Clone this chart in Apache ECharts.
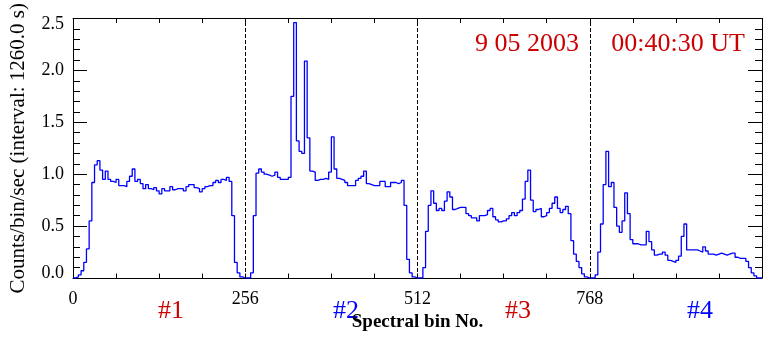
<!DOCTYPE html>
<html>
<head>
<meta charset="utf-8">
<script src="https://cdn.jsdelivr.net/npm/echarts@6/dist/echarts.min.js"></script>
<style>
html,body{margin:0;padding:0;background:#fff;}
#chart{width:773px;height:337px;}
</style>
</head>
<body>
<div id="chart"></div>
<script>
// Spectrum: counts/bin/sec, one value per 4 spectral bins (left bin edge = index*4)
var binStep = 4;
var countsQ1 = [ // bins 0..252
  0.00,0.01,0.03,0.07,0.15,0.28,0.55,0.92,1.09,1.13,1.04,0.95,1.03,0.95,0.93,0.92,
  0.95,0.89,0.89,0.88,0.93,0.98,1.05,0.93,0.95,0.91,0.86,0.90,0.86,0.85,0.87,0.84,
  0.81,0.86,0.84,0.84,0.88,0.85,0.86,0.86,0.86,0.84,0.88,0.90,0.90,0.87,0.86,0.83,
  0.86,0.88,0.89,0.89,0.92,0.94,0.92,0.95,0.94,0.97,0.93,0.60,0.15,0.05,0.01,0.00
];
var countsQ2 = [ // bins 256..508
  0.00,0.00,0.05,0.60,1.01,1.05,1.02,1.00,0.99,0.98,0.99,1.02,0.97,0.95,0.95,0.95,
  0.97,1.75,2.46,1.32,1.22,1.20,2.09,1.35,1.03,1.02,0.94,0.95,0.95,0.96,0.95,1.02,
  1.36,1.05,0.96,0.95,0.94,0.92,0.89,0.89,0.89,0.94,0.96,0.98,1.03,0.91,0.90,0.89,
  0.89,0.89,0.93,0.93,0.88,0.88,0.92,0.92,0.91,0.92,0.94,0.70,0.18,0.05,0.01,0.00
];
var countsQ3 = [ // bins 512..764
  0.00,0.00,0.10,0.45,0.70,0.84,0.72,0.65,0.67,0.65,0.74,0.83,0.78,0.66,0.67,0.68,
  0.68,0.68,0.62,0.60,0.58,0.58,0.55,0.60,0.60,0.61,0.65,0.67,0.59,0.56,0.54,0.55,
  0.55,0.57,0.60,0.63,0.60,0.63,0.65,0.76,0.93,1.04,0.75,0.64,0.66,0.67,0.59,0.60,
  0.63,0.67,0.72,0.78,0.67,0.63,0.66,0.69,0.62,0.36,0.23,0.16,0.10,0.04,0.01,0.00
];
var countsQ4 = [ // bins 768..1020
  0.00,0.00,0.03,0.25,0.52,0.90,1.22,0.88,0.92,0.68,0.50,0.44,0.55,0.82,0.62,0.37,
  0.33,0.33,0.32,0.32,0.32,0.45,0.35,0.27,0.22,0.23,0.23,0.25,0.22,0.17,0.16,0.15,
  0.17,0.21,0.40,0.52,0.27,0.27,0.27,0.27,0.26,0.25,0.30,0.26,0.23,0.23,0.22,0.23,
  0.24,0.23,0.22,0.23,0.24,0.24,0.20,0.19,0.19,0.19,0.16,0.10,0.05,0.02,0.00,0.00
];
var xTickLabels = [0, 256, 512, 768];
var detectorBounds = [256, 512, 768];
var regionNames = ['#1', '#2', '#3', '#4'];
var obsDate = '9 05 2003';
var obsTime = '00:40:30 UT';
var xName = 'Spectral bin No.';
var yName = 'Counts/bin/sec (interval: 1260.0 s)';

var allCounts = countsQ1.concat(countsQ2, countsQ3, countsQ4);
var seriesData = allCounts.map(function (v, i) { return [i * binStep, v]; });
seriesData.push([allCounts.length * binStep, allCounts[allCounts.length - 1]]);

var FONT = "'Liberation Serif', 'Times New Roman', serif";
var RED = '#cc0000', BLUE = '#0000ff';

var chart = echarts.init(document.getElementById('chart'), null, {renderer: 'canvas'});
var regionPos = [[171, 311, RED], [346, 311, BLUE], [518, 311, RED], [700, 311, BLUE]];

var option = {
  animation: false,
  backgroundColor: '#fff',
  grid: {left: 72, top: 14, width: 690, height: 264, containLabel: false},
  xAxis: [{
    type: 'value', min: 0, max: 1024, interval: 64, position: 'bottom',
    name: xName, nameLocation: 'middle', nameGap: 33,
    nameTextStyle: {fontFamily: FONT, fontSize: 19, fontWeight: 'bold', color: '#000'},
    axisLine: {show: true, onZero: false, lineStyle: {color: '#000', width: 1}},
    axisTick: {show: true, inside: true, length: 4.5, lineStyle: {color: '#000'}},
    axisLabel: {
      fontFamily: FONT, fontSize: 18, color: '#000', margin: 12, showMaxLabel: false,
      formatter: function (v) { return xTickLabels.indexOf(v) >= 0 ? String(v) : ''; }
    },
    splitLine: {show: false}
  }, {
    type: 'value', min: 0, max: 1024, interval: 64, position: 'top',
    axisLine: {show: true, onZero: false, lineStyle: {color: '#000', width: 1}},
    axisTick: {show: true, inside: true, length: 4.5, lineStyle: {color: '#000'}},
    axisLabel: {show: false}, splitLine: {show: false}
  }],
  yAxis: [{
    type: 'value', min: 0, max: 2.5, interval: 0.5, position: 'left',
    name: yName, nameLocation: 'middle', nameGap: 44, nameRotate: 90,
    nameTextStyle: {fontFamily: FONT, fontSize: 21, color: '#000'},
    axisLine: {show: true, onZero: false, lineStyle: {color: '#000', width: 1}},
    axisTick: {show: true, inside: true, length: 14, lineStyle: {color: '#000'}},
    minorTick: {show: true, splitNumber: 5, length: 7, lineStyle: {color: '#000'}},
    axisLabel: {
      fontFamily: FONT, fontSize: 18, color: '#000', margin: 9,
      formatter: function (v) {
        var s = v.toFixed(1);
        if (v === 0) return '{lo|' + s + '}';
        if (v === 2.5) return '{hi|' + s + '}';
        return s;
      },
      rich: {
        lo: {fontFamily: FONT, fontSize: 18, color: '#000', padding: [0, 0, 10, 0]},
        hi: {fontFamily: FONT, fontSize: 18, color: '#000', padding: [12, 0, 0, 0]}
      }
    },
    splitLine: {show: false}, minorSplitLine: {show: false}
  }, {
    type: 'value', min: 0, max: 2.5, interval: 0.5, position: 'right',
    axisLine: {show: true, onZero: false, lineStyle: {color: '#000', width: 1}},
    axisTick: {show: true, inside: true, length: 14, lineStyle: {color: '#000'}},
    minorTick: {show: true, splitNumber: 5, length: 7, lineStyle: {color: '#000'}},
    axisLabel: {show: false}, splitLine: {show: false}, minorSplitLine: {show: false}
  }],
  series: [{
    type: 'line', xAxisIndex: 0, yAxisIndex: 0, step: 'end',
    data: seriesData, showSymbol: false, symbol: 'none',
    lineStyle: {color: BLUE, width: 1.3}, z: 3,
    markLine: {
      silent: true, symbol: ['none', 'none'], label: {show: false},
      lineStyle: {color: '#000', type: [4, 2], width: 1},
      data: detectorBounds.map(function (b) { return {xAxis: b}; })
    }
  }],
  graphic: regionNames.map(function (t, i) {
    return {type: 'text', x: regionPos[i][0], y: regionPos[i][1], silent: true,
      style: {text: t, fill: regionPos[i][2], font: '26px ' + FONT, textAlign: 'center', textVerticalAlign: 'middle'}};
  }).concat([
    {type: 'text', x: 527, y: 44, silent: true,
      style: {text: obsDate, fill: RED, font: '26px ' + FONT, textAlign: 'center', textVerticalAlign: 'middle'}},
    {type: 'text', x: 678, y: 44, silent: true,
      style: {text: obsTime, fill: RED, font: '26px ' + FONT, textAlign: 'center', textVerticalAlign: 'middle'}}
  ])
};
chart.setOption(option);
</script>
</body>
</html>
